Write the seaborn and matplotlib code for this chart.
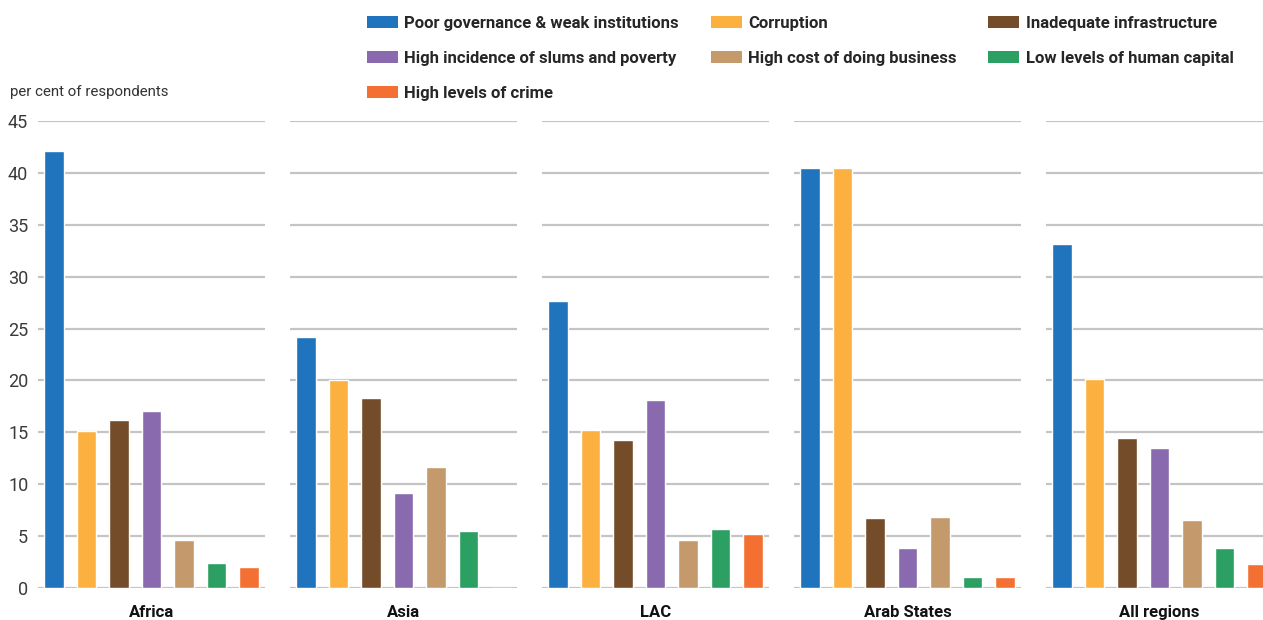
import numpy as np
import pandas as pd
import seaborn as sns
import matplotlib.pyplot as plt
from matplotlib.patches import Patch

# categories and colours
causes = ['Poor governance & weak institutions', 'Corruption', 'Inadequate infrastructure',
          'High incidence of slums and poverty', 'High cost of doing business',
          'Low levels of human capital', 'High levels of crime']
colors = ['#1f74bd', '#fbb040', '#754c29', '#8a6aae', '#c49a6c', '#2ca062', '#f37032']

regions = ['Africa', 'Asia', 'LAC', 'Arab States', 'All regions']
africa = [42.1, 15.1, 16.2, 17.1, 4.6, 2.4, 2.0]
asia = [24.2, 20.0, 18.3, 9.2, 11.7, 5.5, 0.0]
lac = [27.7, 15.2, 14.3, 18.1, 4.6, 5.7, 5.2]
arab = [40.5, 40.5, 6.7, 3.9, 6.8, 1.1, 1.1]
all_regions = [33.1, 20.1, 14.5, 13.5, 6.6, 3.9, 2.3]
values = [africa, asia, lac, arab, all_regions]

sns.set_theme(style='white')
plt.rcParams['font.family'] = ['Liberation Sans Narrow', 'Roboto', 'DejaVu Sans']

W, H = 1263, 620
fig = plt.figure(figsize=(W / 100, H / 100), dpi=100)

for i, (region, vals) in enumerate(zip(regions, values)):
    left = 38 + i * 252
    ax = fig.add_axes([left / W, 32 / H, 227 / W, 467 / H])
    df = pd.DataFrame({'cause': causes, 'value': vals})
    sns.barplot(data=df, x='cause', y='value', hue='cause', order=causes, hue_order=causes,
                palette=colors, width=0.6, saturation=1, legend=False, ax=ax)
    ax.set_ylim(0, 45)
    ax.set_xlim(-0.5, 6.5)
    ax.set_yticks(np.arange(0, 50, 5))
    ax.set_xticks([])
    ax.yaxis.grid(True, color='#c4c4c4', linewidth=1.6)
    ax.set_axisbelow(True)
    for s in ax.spines.values():
        s.set_visible(False)
    ax.set_ylabel('')
    ax.set_xlabel(region, fontsize=12, fontweight='bold', color='#111111', labelpad=12)
    ax.tick_params(axis='y', length=0, pad=7, labelsize=13, labelcolor='#3a3a3a')
    if i > 0:
        ax.tick_params(labelleft=False)

fig.text(10 / W, 1 - 92 / H, 'per cent of respondents', fontsize=10.8, color='#333333', va='center')

# legend filled column-wise so that rows read like the original
order = [0, 3, 6, 1, 4, 2, 5]
handles = [Patch(facecolor=colors[k], edgecolor='none') for k in order]
labels = [causes[k] for k in order]
fig.legend(handles, labels, loc='upper left', bbox_to_anchor=(367 / W, 1 - 16 / H), ncol=3,
           frameon=False, borderpad=0, borderaxespad=0, handlelength=1.85, handleheight=0.7,
           handletextpad=0.4, labelspacing=1.2, columnspacing=1.9,
           prop={'size': 12, 'weight': 'bold'})

fig.savefig('out.png', dpi=100)
